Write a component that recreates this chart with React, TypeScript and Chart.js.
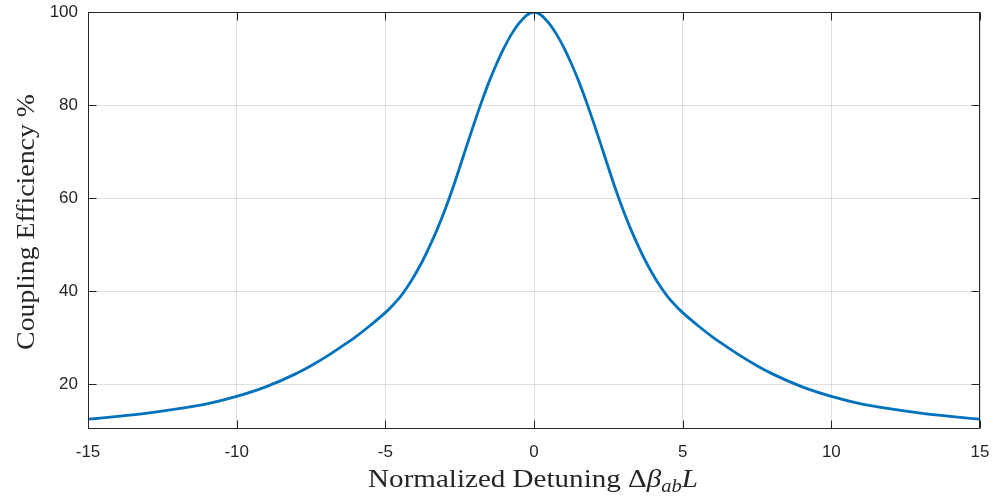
import React, { useEffect, useRef } from "react";
import { Chart, registerables } from "chart.js";

Chart.register(...registerables);

const detuning: number[] = [
  -15, -14, -13, -12, -11, -10, -9, -8, -7.5, -7, -6.5, -6, -5.5, -5, -4.75, -4.5, -4.25, -4, -3.75, -3.5,
  -3.25, -3, -2.75, -2.5, -2.25, -2, -1.75, -1.5, -1.25, -1, -0.75, -0.5, -0.25,
  0,
  0.25, 0.5, 0.75, 1, 1.25, 1.5, 1.75, 2, 2.25, 2.5, 2.75, 3, 3.25,
  3.5, 3.75, 4, 4.25, 4.5, 4.75, 5, 5.5, 6, 6.5, 7, 7.5, 8, 9, 10, 11, 12, 13, 14, 15,
];
const efficiency: number[] = [
  12.5, 13.1, 13.8, 14.7, 15.8, 17.4, 19.5, 22.3, 24.0, 25.9, 28.0, 30.2, 32.7, 35.4, 37.0, 38.8, 41.0, 43.6, 46.5, 49.8,
  53.4, 57.4, 61.8, 66.6, 71.5, 76.3, 80.9, 85.2, 89.0, 92.4, 95.3, 97.6, 99.3,
  100,
  99.3, 97.6, 95.3, 92.4, 89.0, 85.2, 80.9, 76.3, 71.5, 66.6, 61.8, 57.4, 53.4,
  49.8, 46.5, 43.6, 41.0, 38.8, 37.0, 35.4, 32.7, 30.2, 28.0, 25.9, 24.0, 22.3, 19.5, 17.4, 15.8, 14.7, 13.8, 13.1, 12.5,
];
const xTicks: number[] = [-15, -10, -5, 0, 5, 10, 15];
const yTicks: number[] = [20, 40, 60, 80, 100];
const X_MIN = -15;
const X_MAX = 15;
const Y_MIN = 10.4;
const Y_MAX = 100;

const AXIS_COLOR = "#262626";
const SERIF = "'Liberation Serif', 'DejaVu Serif', serif";
const SANS = "'Liberation Sans', Arial, sans-serif";
const TITLE_SIZE = 25.5;
const X_TITLE_STRETCH = 1.14;
const Y_TITLE_STRETCH = 1.09;

const framePlugin = {
  id: "matlabFrame",
  afterDraw(chart: any) {
    const { ctx, chartArea } = chart;
    const { left, right, top, bottom } = chartArea;
    const xs = chart.scales.x;
    const ys = chart.scales.y;
    ctx.save();
    ctx.strokeStyle = AXIS_COLOR;
    ctx.lineWidth = 1;
    const L = Math.round(left) + 0.5;
    const R = Math.round(right) - 0.5;
    const T = Math.round(top) + 0.5;
    const B = Math.round(bottom) - 0.5;
    ctx.beginPath();
    ctx.rect(L, T, R - L, B - T);
    ctx.stroke();
    const tl = 8;
    ctx.beginPath();
    xTicks.forEach((v) => {
      const px = Math.round(xs.getPixelForValue(v)) + 0.5;
      ctx.moveTo(px, B);
      ctx.lineTo(px, B - tl);
      ctx.moveTo(px, T);
      ctx.lineTo(px, T + tl);
    });
    yTicks.forEach((v) => {
      const py = Math.round(ys.getPixelForValue(v)) + 0.5;
      ctx.moveTo(L, py);
      ctx.lineTo(L + tl, py);
      ctx.moveTo(R, py);
      ctx.lineTo(R - tl, py);
    });
    ctx.stroke();

    // x-axis title with math parts
    ctx.fillStyle = AXIS_COLOR;
    ctx.textBaseline = "alphabetic";
    ctx.textAlign = "left";
    const sub = Math.round(TITLE_SIZE * 0.7);
    const parts = [
      { t: "Normalized Detuning ", f: `${TITLE_SIZE}px ${SERIF}`, dy: 0 },
      { t: "Δ", f: `${TITLE_SIZE}px ${SERIF}`, dy: 0 },
      { t: "β", f: `italic ${TITLE_SIZE}px ${SERIF}`, dy: 0 },
      { t: "ab", f: `italic ${sub}px ${SERIF}`, dy: 5 },
      { t: "L", f: `italic ${TITLE_SIZE}px ${SERIF}`, dy: 0 },
    ];
    let total = 0;
    const widths = parts.map((p) => {
      ctx.font = p.f;
      const w = ctx.measureText(p.t).width;
      total += w;
      return w;
    });
    ctx.save();
    ctx.translate((left + right) / 2 - 1, 487);
    ctx.scale(X_TITLE_STRETCH, 1);
    let cx = -total / 2;
    parts.forEach((p, i) => {
      ctx.font = p.f;
      ctx.fillText(p.t, cx, p.dy);
      cx += widths[i];
    });
    ctx.restore();

    // y-axis title
    ctx.save();
    ctx.translate(34, 222);
    ctx.rotate(-Math.PI / 2);
    ctx.scale(Y_TITLE_STRETCH, 1);
    ctx.textAlign = "center";
    ctx.font = `${TITLE_SIZE}px ${SERIF}`;
    ctx.fillText("Coupling Efficiency %", 0, 0);
    ctx.restore();
    ctx.restore();
  },
};

const zeroPad = (s: any) => {
  s.paddingLeft = 0;
  s.paddingRight = 0;
  s.paddingTop = 0;
  s.paddingBottom = 0;
};

export default function App() {
  const ref = useRef<HTMLCanvasElement | null>(null);
  useEffect(() => {
    document.body.style.margin = "0";
    if (!ref.current) return;
    const chart = new Chart(ref.current, {
      type: "line",
      data: {
        datasets: [
          {
            data: detuning.map((x, i) => ({ x, y: efficiency[i] })),
            borderColor: "#0072BD",
            borderWidth: 2.8,
            pointRadius: 0,
            fill: false,
            cubicInterpolationMode: "monotone",
          },
        ],
      },
      options: {
        animation: false,
        responsive: false,
        maintainAspectRatio: false,
        devicePixelRatio: 1,
        layout: { padding: { left: 0, right: 17, top: 12, bottom: 0 } },
        plugins: { legend: { display: false }, tooltip: { enabled: false } },
        scales: {
          x: {
            type: "linear",
            min: X_MIN,
            max: X_MAX,
            afterBuildTicks: (s: any) => {
              s.ticks = xTicks.map((v) => ({ value: v }));
            },
            afterFit: (s: any) => {
              s.height = 68;
              zeroPad(s);
            },
            grid: { color: "rgba(38,38,38,0.14)", lineWidth: 1, drawTicks: false },
            border: { display: false },
            ticks: {
              color: AXIS_COLOR,
              padding: 13,
              maxRotation: 0,
              font: { family: SANS, size: 17 },
            },
          },
          y: {
            type: "linear",
            min: Y_MIN,
            max: Y_MAX,
            afterBuildTicks: (s: any) => {
              s.ticks = yTicks.map((v) => ({ value: v }));
            },
            afterFit: (s: any) => {
              s.width = 88;
              zeroPad(s);
            },
            grid: { color: "rgba(38,38,38,0.14)", lineWidth: 1, drawTicks: false },
            border: { display: false },
            ticks: {
              color: AXIS_COLOR,
              padding: 10,
              font: { family: SANS, size: 17 },
            },
          },
        },
      },
      plugins: [framePlugin],
    });
    return () => chart.destroy();
  }, []);
  return <canvas ref={ref} width={997} height={497} style={{ display: "block" }} />;
}
